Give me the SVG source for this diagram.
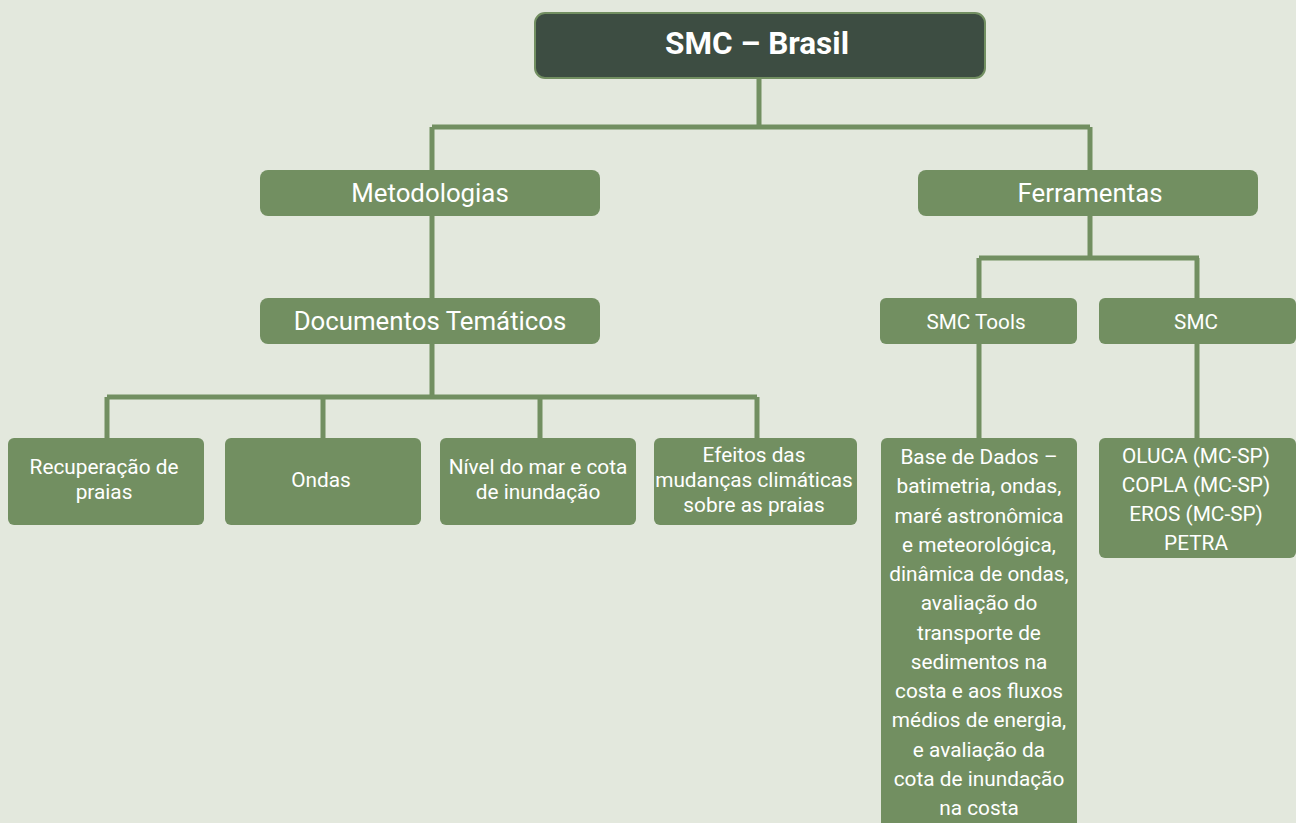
<svg xmlns="http://www.w3.org/2000/svg" width="1296" height="823" viewBox="0 0 1296 823">
<style>
.bg{fill:#e3e8dd}
.n{fill:#728f61}
.c{fill:none;stroke:#728f61;stroke-width:5}
text{font-family:Roboto,"Liberation Sans",sans-serif;fill:#ffffff;text-anchor:middle}
.t1{font-size:25.8px}
.t2{font-size:20.7px}
.t3{font-size:20.8px}
</style>
<rect class="bg" x="0" y="0" width="1296" height="823"/>
<g id="connectors">
<path class="c" d="M759 78V127M432 127H1090M432 127V170M1090 127V170"/>
<path class="c" d="M432 216V298M432 344V397M107 397H757M107 397V438M323 397V438M540 397V438M757 397V438"/>
<path class="c" d="M1090 216V258M979 258H1199M979 258V298M1197 258V298M979 344V438M1197 344V438"/>
</g>
<g id="root"><rect x="535" y="13" width="450" height="65" rx="10" fill="#3d4d42" stroke="#728f61" stroke-width="2"/><text x="757" y="54" style="font-size:31.5px;font-weight:bold">SMC – Brasil</text></g>
<g id="metodologias"><rect class="n" x="260" y="170" width="340" height="46" rx="8"/><text class="t1" x="430" y="202">Metodologias</text></g>
<g id="ferramentas"><rect class="n" x="918" y="170" width="340" height="46" rx="8"/><text class="t1" x="1090" y="202">Ferramentas</text></g>
<g id="documentos"><rect class="n" x="260" y="298" width="340" height="46" rx="8"/><text class="t1" x="430" y="330">Documentos Temáticos</text></g>
<g id="smctools"><rect class="n" x="880" y="298" width="197" height="46" rx="6"/><text class="t2" x="976" y="328.5">SMC Tools</text></g>
<g id="smc"><rect class="n" x="1099" y="298" width="197" height="46" rx="6"/><text class="t2" x="1196" y="328.5">SMC</text></g>
<g id="recuperacao"><rect class="n" x="8" y="438" width="196" height="87" rx="6"/><text class="t3" x="104" y="474">Recuperação de</text><text class="t3" x="104" y="499">praias</text></g>
<g id="ondas"><rect class="n" x="225" y="438" width="196" height="87" rx="6"/><text class="t3" x="321" y="487">Ondas</text></g>
<g id="nivel"><rect class="n" x="440" y="438" width="196" height="87" rx="6"/><text class="t3" x="538" y="474">Nível do mar e cota</text><text class="t3" x="538" y="499">de inundação</text></g>
<g id="efeitos"><rect class="n" x="654" y="438" width="203" height="87" rx="6"/><text class="t3" x="754" y="462">Efeitos das</text><text class="t3" x="754" y="487">mudanças climáticas</text><text class="t3" x="754" y="512">sobre as praias</text></g>
<g id="basedados"><rect class="n" x="881" y="438" width="196" height="400" rx="6"/>
<text class="t3" x="979"><tspan x="979" y="464">Base de Dados –</tspan><tspan x="979" y="493.3">batimetria, ondas,</tspan><tspan x="979" y="522.5">maré astronômica</tspan><tspan x="979" y="551.8">e meteorológica,</tspan><tspan x="979" y="581">dinâmica de ondas,</tspan><tspan x="979" y="610.3">avaliação do</tspan><tspan x="979" y="639.5">transporte de</tspan><tspan x="979" y="668.8">sedimentos na</tspan><tspan x="979" y="698">costa e aos fluxos</tspan><tspan x="979" y="727.3">médios de energia,</tspan><tspan x="979" y="756.5">e avaliação da</tspan><tspan x="979" y="785.8">cota de inundação</tspan><tspan x="979" y="815">na costa</tspan></text></g>
<g id="smclist"><rect class="n" x="1099" y="438" width="197" height="120" rx="6"/>
<text class="t3" x="1196"><tspan x="1196" y="463">OLUCA (MC-SP)</tspan><tspan x="1196" y="492">COPLA (MC-SP)</tspan><tspan x="1196" y="521">EROS (MC-SP)</tspan><tspan x="1196" y="550">PETRA</tspan></text></g>
</svg>
